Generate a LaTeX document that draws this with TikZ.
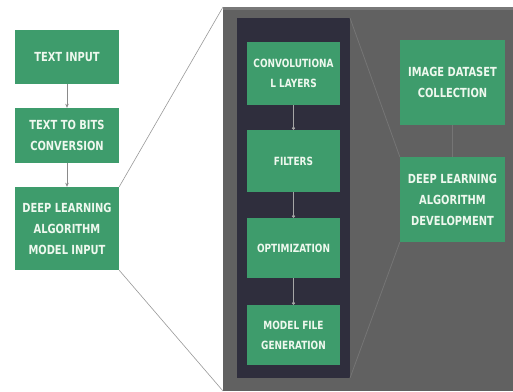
\documentclass[tikz,border=0pt]{standalone}
\usepackage{fontspec}
\setsansfont[FakeStretch=0.88]{DejaVu Sans Condensed}
\usetikzlibrary{arrows.meta}
\definecolor{boxgreen}{HTML}{3E9C6C}
\definecolor{panelgray}{HTML}{616161}
\definecolor{paneldark}{HTML}{2F2E3D}
\definecolor{linegray}{HTML}{8A8A8A}
\definecolor{boxtext}{HTML}{EEF8EE}
\tikzset{
  gbox/.style={fill=boxgreen, draw=none, text=boxtext, align=center,
    font=\sffamily\bfseries\fontsize{12.5}{21}\selectfont, inner sep=0pt},
  ibox/.style={gbox, font=\sffamily\bfseries\fontsize{11.3}{20}\selectfont},
  flowarrow/.style={draw=linegray, line width=0.6pt, -{Stealth[length=4pt,width=3.5pt]}},
  innerarrow/.style={draw=gray!70, line width=0.5pt, -{Circle[length=3pt]}},
  zoomline/.style={draw=gray!80, line width=0.6pt},
  faintline/.style={draw=gray!65!panelgray, line width=0.8pt}
}
\begin{document}
\begin{tikzpicture}[x=1pt,y=-1pt]
\useasboundingbox (0,0) rectangle (513,391);
\fill[white] (0,0) rectangle (513,391);
% panels
\coordinate (pTL) at (223,7);
\coordinate (pBL) at (223,391);
\fill[panelgray] (pTL) rectangle (513,391);
\fill[gray!75!panelgray] (223,7) rectangle (513,10);
\fill[paneldark] (237,18) rectangle (350,378);
\coordinate (dTR) at (350,18);
\coordinate (dBR) at (350,378);
% left boxes
\node[gbox, minimum width=104pt, minimum height=54pt] (ti) at (67,57) {TEXT INPUT};
\node[gbox, minimum width=104pt, minimum height=55pt] (tb) at (67,135.5) {TEXT TO BITS\\CONVERSION};
\node[gbox, minimum width=104pt, minimum height=83pt] (dl) at (67,228.5) {DEEP LEARNING\\ALGORITHM\\MODEL INPUT};
\draw[flowarrow] (ti) -- (tb);
\draw[flowarrow] (tb) -- (dl);
% zoom lines
\draw[zoomline] (dl.north east) -- (pTL);
\draw[zoomline] (dl.south east) -- (pBL);
% inner boxes
\node[ibox, minimum width=93pt, minimum height=63pt] (cv) at (293.5,73.5) {CONVOLUTIONA\\L LAYERS};
\node[ibox, minimum width=93pt, minimum height=62pt] (fi) at (293.5,161) {FILTERS};
\node[ibox, minimum width=93pt, minimum height=60pt] (op) at (293.5,248) {OPTIMIZATION};
\node[ibox, minimum width=93pt, minimum height=60pt] (mf) at (293.5,335) {MODEL FILE\\GENERATION};
\draw[innerarrow] (cv) -- (fi);
\draw[innerarrow] (fi) -- (op);
\draw[innerarrow] (op) -- (mf);
% right boxes
\node[gbox, minimum width=105pt, minimum height=85pt] (id) at (452.5,82.5) {IMAGE DATASET\\COLLECTION};
\node[gbox, minimum width=105pt, minimum height=85pt] (dd) at (452.5,199.5) {DEEP LEARNING\\ALGORITHM\\DEVELOPMENT};
\draw[faintline] (id) -- (dd);
\draw[faintline] (dd.north west) -- (dTR);
\draw[faintline] (dd.south west) -- (dBR);
\end{tikzpicture}
\end{document}
